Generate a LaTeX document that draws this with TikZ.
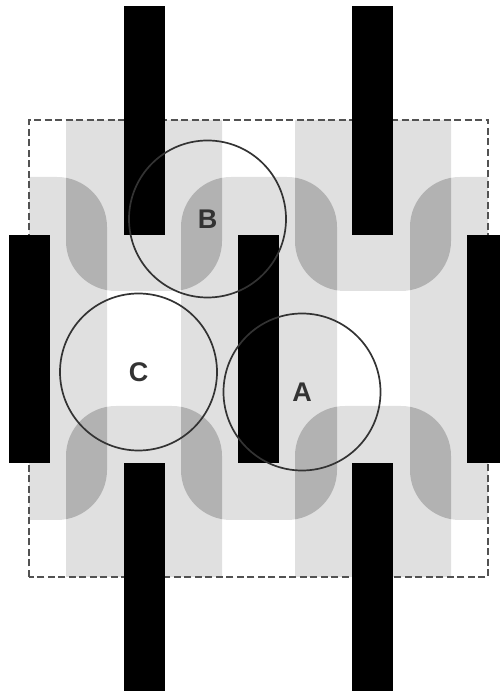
\documentclass[tikz,border=0pt]{standalone}
\usepackage{fontspec}
\setmainfont{Liberation Sans}
\usepackage{tikz}
\definecolor{lightfill}{HTML}{E0E0E0}
\definecolor{darkfill}{HTML}{B2B2B2}
\definecolor{ink}{HTML}{333333}
% grey regions, r = 50
\newcommand{\ushape}[2]{(#1,573) -- (#1,452) arc[start angle=180,end angle=270,radius=50] -- (#2-50,402) arc[start angle=270,end angle=360,radius=50] -- (#2,573) -- cycle}
\newcommand{\dshape}[2]{(#1,116) -- (#1,237) arc[start angle=180,end angle=90,radius=50] -- (#2-50,287) arc[start angle=90,end angle=0,radius=50] -- (#2,116) -- cycle}
\newcommand{\shpUa}{\ushape{66}{222}}
\newcommand{\shpUb}{\ushape{295}{451}}
\newcommand{\shpDa}{\dshape{66}{222}}
\newcommand{\shpDb}{\dshape{295}{451}}
\newcommand{\shpL}{(29,173) -- (57,173) arc[start angle=270,end angle=360,radius=50] -- (107,466) arc[start angle=0,end angle=90,radius=50] -- (29,516) -- cycle}
\newcommand{\shpM}{(231,173) -- (287,173) arc[start angle=270,end angle=360,radius=50] -- (337,466) arc[start angle=0,end angle=90,radius=50] -- (231,516) arc[start angle=90,end angle=180,radius=50] -- (181,223) arc[start angle=180,end angle=270,radius=50] -- cycle}
\newcommand{\shpR}{(488,173) -- (460,173) arc[start angle=270,end angle=180,radius=50] -- (410,466) arc[start angle=180,end angle=90,radius=50] -- (488,516) -- cycle}

\begin{document}
\begin{tikzpicture}[
  x=1bp, y=1bp,
  font=\fontsize{27bp}{30bp}\selectfont\bfseries,
  frame/.style={draw=ink!85, line width=1.1bp, dash pattern=on 7bp off 3.5bp},
  bar/.style={fill=black},
  ring/.style={circle, draw=ink, line width=1.7bp, minimum size=157bp, inner sep=0pt, text=ink}
]
\useasboundingbox (0,0) rectangle (500,693);
\foreach \s in {\shpUa,\shpUb,\shpDa,\shpDb,\shpL,\shpM,\shpR}
  \fill[lightfill] \s;
% overlaps
\foreach \h in {\shpUa,\shpUb,\shpDa,\shpDb}
  \foreach \v in {\shpL,\shpM,\shpR}
  {\begin{scope} \clip \h; \fill[darkfill] \v; \end{scope}}
\draw[frame] (29,116) rectangle (488,573);
\foreach \x in {124,352} {
  \fill[bar] (\x,458) rectangle +(41,229);
  \fill[bar] (\x,2) rectangle +(41,228);
}
\foreach \x in {9,238,467}
  \fill[bar] (\x,230) rectangle +(41,228);
\node[ring] (B) at (207.5,474) {B};
\node[ring] (C) at (138.5,321) {C};
\node[ring] (A) at (302,301) {A};
\end{tikzpicture}
\end{document}
